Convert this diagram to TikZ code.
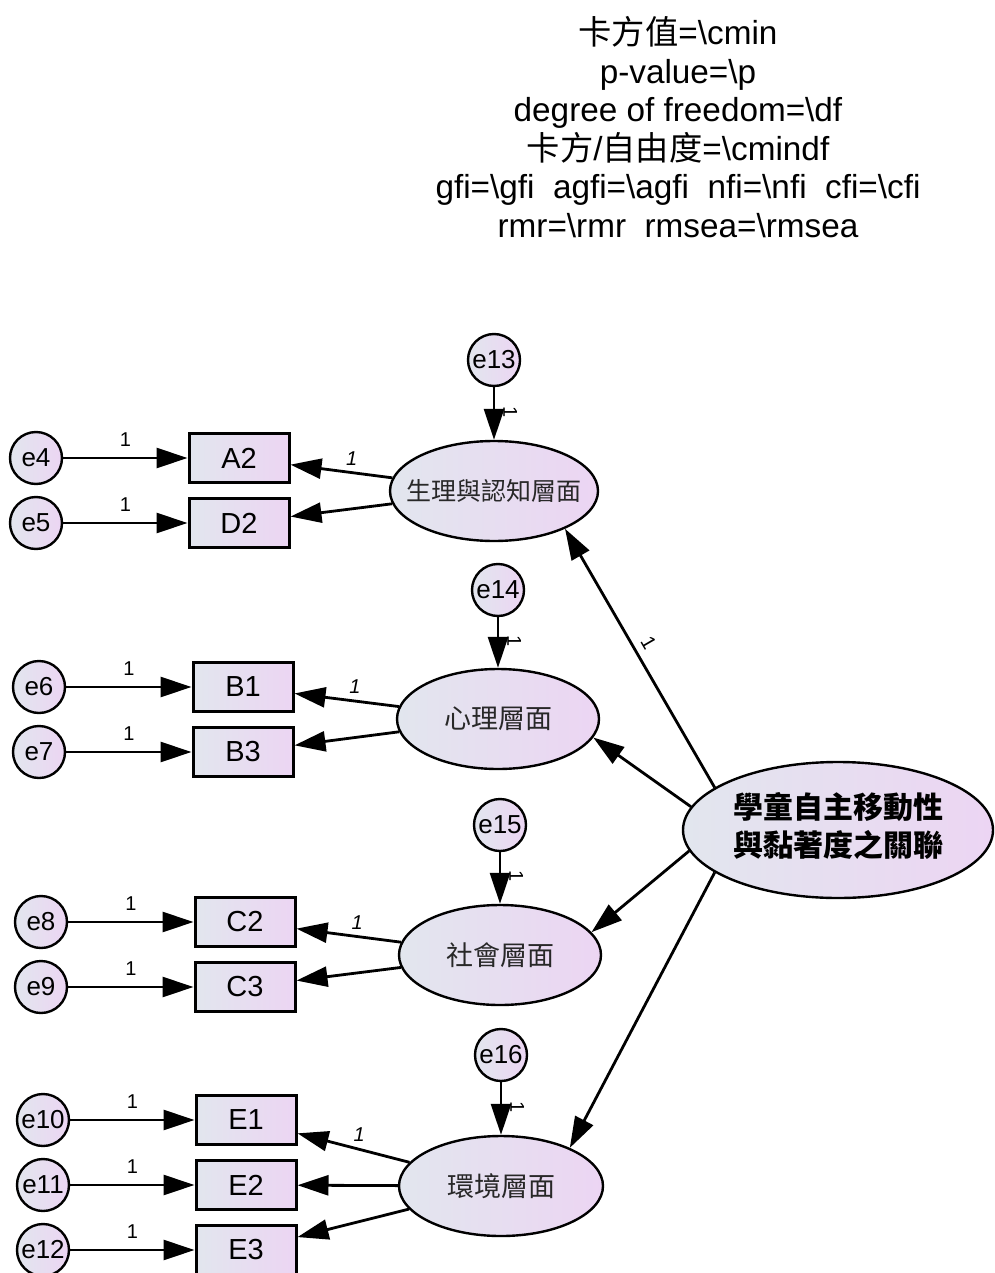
\documentclass[tikz,border=0pt]{standalone}
\usepackage{fontspec}
\setmainfont{Liberation Sans}
\newfontfamily\cjk{Noto Sans CJK TC}
\usetikzlibrary{shapes.geometric,arrows.meta}

\definecolor{shadeL}{RGB}{226,230,238}
\definecolor{shadeR}{RGB}{236,213,243}
\definecolor{inkgray}{RGB}{40,40,40}

\tikzset{
  amosfill/.style={left color=shadeL, right color=shadeR},
  obsbox/.style={draw, rectangle, amosfill, line width=3pt,
    minimum width=100pt, minimum height=49pt, inner sep=0pt,
    font=\fontsize{29}{29}\selectfont},
  errnode/.style={draw, circle, amosfill, line width=2.4pt,
    minimum size=52pt, inner sep=0pt,
    font=\fontsize{26}{26}\selectfont},
  latent/.style={draw, ellipse, amosfill, line width=2.4pt,
    minimum width=202pt, minimum height=100pt, inner sep=0pt,
    text=inkgray, font=\cjk\fontsize{27}{27}\selectfont},
  arr/.style={-{Triangle[length=31pt,width=20pt]}, line width=2.8pt},
  wlab/.style={font=\fontsize{20}{20}\selectfont, inner sep=2pt},
  ilab/.style={font=\itshape\fontsize{20}{20}\selectfont, inner sep=2pt},
}

\begin{document}
\begin{tikzpicture}[x=1pt,y=-1pt]
\useasboundingbox (0,0) rectangle (994,1273);

% fit statistics block
\node[align=center, font=\fontsize{33.3}{38.6}\selectfont] (stats) at (678,127)
  {{\cjk 卡方值}=\textbackslash cmin\\
   p-value=\textbackslash p\\
   degree of freedom=\textbackslash df\\
   {\cjk 卡方}/{\cjk 自由度}=\textbackslash cmindf\\
   gfi=\textbackslash gfi\ \ agfi=\textbackslash agfi\ \ nfi=\textbackslash nfi\ \ cfi=\textbackslash cfi\\
   rmr=\textbackslash rmr\ \ rmsea=\textbackslash rmsea};

% second-order factor
\node[latent, minimum width=310pt, minimum height=136pt, text=black,
      font=\cjk\bfseries\fontsize{30}{38}\selectfont] (F) at (838,830)
  {\makebox[0pt]{\begin{tabular}{@{}c@{}}學童自主移動性\\與黏著度之關聯\end{tabular}}};

% first-order factors
\node[latent, minimum width=208pt, font=\cjk\fontsize{25}{25}\selectfont] (F1) at (494,491) {\makebox[0pt]{生理與認知層面}};
\node[latent] (F2) at (498,719) {\makebox[0pt]{心理層面}};
\node[latent] (F3) at (500,955) {\makebox[0pt]{社會層面}};
\node[latent, minimum width=204pt] (F4) at (501,1186) {\makebox[0pt]{環境層面}};

% disturbances
\node[errnode] (e13) at (494,360) {e13};
\node[errnode] (e14) at (498,590) {e14};
\node[errnode] (e15) at (500,825) {e15};
\node[errnode] (e16) at (501,1055) {e16};

% observed indicators
\node[obsbox] (A2) at (239,458) {A2};
\node[obsbox] (D2) at (239,523) {D2};
\node[obsbox] (B1) at (243,687) {B1};
\node[obsbox] (B3) at (243,752) {B3};
\node[obsbox] (C2) at (245,922) {C2};
\node[obsbox] (C3) at (245,987) {C3};
\node[obsbox] (E1) at (246,1120) {E1};
\node[obsbox] (E2) at (246,1185) {E2};
\node[obsbox] (E3) at (246,1250) {E3};

% measurement errors
\node[errnode] (e4) at (36,458) {e4};
\node[errnode] (e5) at (36,523) {e5};
\node[errnode] (e6) at (39,687) {e6};
\node[errnode] (e7) at (39,752) {e7};
\node[errnode] (e8) at (41,922) {e8};
\node[errnode] (e9) at (41,987) {e9};
\node[errnode] (e10) at (43,1120) {e10};
\node[errnode] (e11) at (43,1185) {e11};
\node[errnode] (e12) at (43,1250) {e12};

% error paths
\foreach \e/\o in {e4/A2,e5/D2,e6/B1,e7/B3,e8/C2,e9/C3,e10/E1,e11/E2,e12/E3}
  \draw[arr] (\e) -- node[wlab, above=8pt, pos=0.5]{1} (\o);

% disturbance paths
\foreach \d/\f in {e13/F1,e14/F2,e15/F3,e16/F4}
  \draw[arr] (\d) -- node[wlab, rotate=-90, above=6pt, pos=0.47]{1} (\f);

% loadings
\draw[arr] (F1) -- node[ilab, above=4pt, pos=0.4]{1} (A2);
\draw[arr] (F1) -- (D2);
\draw[arr] (F2) -- node[ilab, above=4pt, pos=0.42]{1} (B1);
\draw[arr] (F2) -- (B3);
\draw[arr] (F3) -- node[ilab, above=4pt, pos=0.42]{1} (C2);
\draw[arr] (F3) -- (C3);
\draw[arr] (F4) -- node[ilab, above=4pt, pos=0.45]{1} (E1);
\draw[arr] (F4) -- (E2);
\draw[arr] (F4) -- (E3);

% second-order loadings
\draw[arr] (F.161) -- node[wlab, sloped, above=5pt, pos=0.53]{1} (F1.-28);
\draw[arr] (F.171) -- (F2.-11);
\draw[arr] (F.188) -- (F3.14);
\draw[arr] (F.199) -- (F4.29);
\end{tikzpicture}
\end{document}
